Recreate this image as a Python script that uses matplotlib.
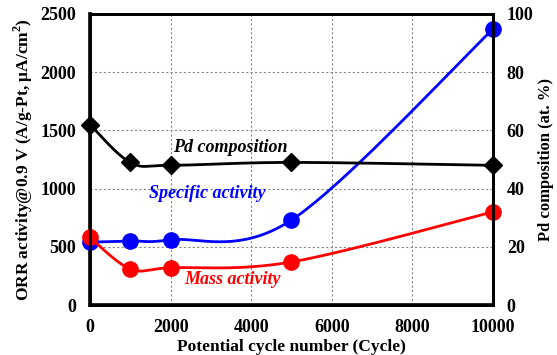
import numpy as np
import matplotlib
matplotlib.use("Agg")
import matplotlib.pyplot as plt

cycles = [0, 1000, 2000, 5000, 10000]
specific_activity = [540, 550, 560, 730, 2370]
mass_activity = [580, 310, 320, 370, 800]
pd_composition = [62, 49, 48, 49, 48]

xticks = [0, 2000, 4000, 6000, 8000, 10000]
yticks_left = [0, 500, 1000, 1500, 2000, 2500]
yticks_right = [0, 20, 40, 60, 80, 100]

plt.rcParams['font.family'] = ['Liberation Serif', 'DejaVu Serif']
plt.rcParams['font.weight'] = 'bold'
plt.rcParams['mathtext.fontset'] = 'custom'
plt.rcParams['mathtext.bf'] = 'Liberation Serif:bold'
plt.rcParams['mathtext.rm'] = 'Liberation Serif:bold'

def smooth(x, y, xr, yr, n=40):
    # Excel-like Catmull-Rom Bezier smoothing in normalised coordinates
    x = np.asarray(x, float); y = np.asarray(y, float)
    px = x / xr; py = y / yr
    P = np.column_stack([px, py])
    out = []
    for i in range(len(P) - 1):
        p0 = P[i - 1] if i > 0 else P[i]
        p1 = P[i]; p2 = P[i + 1]
        p3 = P[i + 2] if i + 2 < len(P) else P[i + 1]
        c1 = p1 + (p2 - p0) / 6
        c2 = p2 - (p3 - p1) / 6
        t = np.linspace(0, 1, n)[:, None]
        seg = (1 - t) ** 3 * p1 + 3 * (1 - t) ** 2 * t * c1 + 3 * (1 - t) * t ** 2 * c2 + t ** 3 * p2
        out.append(seg if i == 0 else seg[1:])
    s = np.vstack(out)
    return s[:, 0] * xr, s[:, 1] * yr

fig = plt.figure(figsize=(5.57, 3.55), dpi=100)
ax = fig.add_axes([0.1616, 0.1408, 0.7234, 0.8198])
ax2 = ax.twinx()

ax.set_xlim(0, 10000)
ax.set_ylim(0, 2500)
ax2.set_ylim(0, 100)

ax.set_xticks(xticks)
ax.set_yticks(yticks_left)
ax2.set_yticks(yticks_right)
ax.grid(True, color='#888888', linestyle=(0, (2, 2)), linewidth=0.8)
ax.tick_params(axis='x', length=0, labelsize=13, pad=10)
ax.tick_params(axis='y', length=0, labelsize=13, pad=10)
ax2.tick_params(length=0, labelsize=13, pad=10)

for sp in ax.spines.values():
    sp.set_linewidth(2)
ax.spines['left'].set_linewidth(2.8)
ax.spines['left'].set_color('#222222')
ax.spines['bottom'].set_linewidth(2.8)
ax.spines['bottom'].set_color('#222222')
for sp in ax2.spines.values():
    sp.set_linewidth(2)

xs, ys = smooth(cycles, specific_activity, 10000, 2500)
ax.plot(xs, ys, color='#0000ff', lw=2, zorder=3)
ax.plot(cycles, specific_activity, 'o', color='#0000ff', ms=11, zorder=4, clip_on=False)

xm, ym = smooth(cycles, mass_activity, 10000, 2500)
ax.plot(xm, ym, color='#ff0000', lw=2, zorder=5)
ax.plot(cycles, mass_activity, 'o', color='#ff0000', ms=11, zorder=6, clip_on=False)

xp, yp = smooth(cycles, pd_composition, 10000, 100)
ax2.plot(xp, yp, color='black', lw=2, zorder=3)
ax2.plot(cycles, pd_composition, 'D', color='black', ms=9, zorder=4, clip_on=False)

ax.text(3474, 1349, 'Pd composition', color='black', style='italic', fontsize=13,
        ha='center', va='center', fontweight='bold')
ax.text(2903, 962, 'Specific activity', color='#0000ff', style='italic', fontsize=13,
        ha='center', va='center', fontweight='bold')
ax.text(3548, 215, 'Mass activity', color='#ff0000', style='italic', fontsize=13,
        ha='center', va='center', fontweight='bold')

ax.set_xlabel('Potential cycle number (Cycle)', fontsize=12.5, fontweight='bold')
ax.xaxis.label.set_va('center')
ax.xaxis.set_label_coords(0.5, -0.144)
ax.set_ylabel('ORR activity@0.9 V (A/g-Pt, μA/cm$^\\mathbf{2}$)', fontsize=12.5, fontweight='bold')
ax.yaxis.label.set_va('center')
ax.yaxis.set_label_coords(-0.166, 0.5)
ax2.set_ylabel('Pd composition (at. %)', fontsize=12, fontweight='bold')
ax2.yaxis.label.set_va('center')
ax2.yaxis.set_label_coords(1.132, 0.50)

fig.savefig('out.png', dpi=100)
